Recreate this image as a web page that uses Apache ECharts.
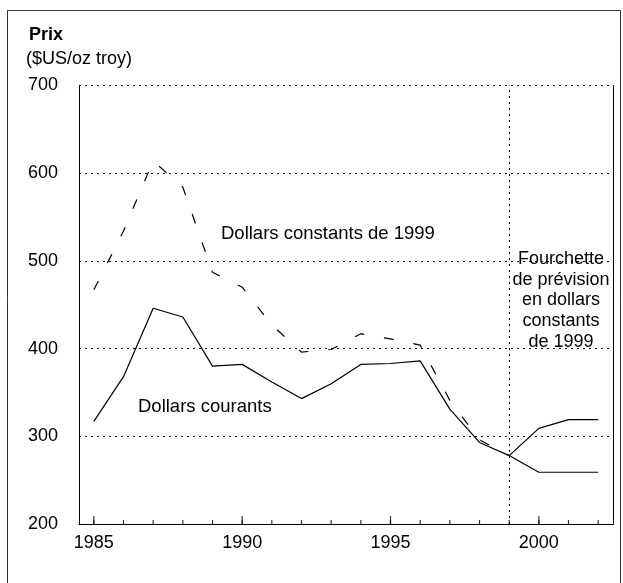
<!DOCTYPE html>
<html>
<head>
<meta charset="utf-8">
<script src="https://cdn.jsdelivr.net/npm/echarts@6/dist/echarts.min.js"></script>
<style>
  html, body { margin: 0; padding: 0; background: #fff; }
  #chart { width: 623px; height: 583px; }
</style>
</head>
<body>
<div id="chart"></div>
<script>
  // annees et valeurs
  var years = [1985, 1986, 1987, 1988, 1989, 1990, 1991, 1992, 1993, 1994, 1995, 1996, 1997, 1998, 1999];
  var courants = [317, 368, 446, 436, 380, 382, 362, 343, 360, 382, 383, 386, 331, 293, 278];
  var constants1999 = [467, 534, 614, 584, 487, 470, 427, 396, 399, 417, 411, 404, 341, 296, 278];
  // fourchette de prevision
  var prevYears = [1999, 2000, 2001, 2002];
  var prevHaut = [278, 309, 319, 319];
  var prevBas = [278, 259, 259, 259];
  // graduations de l'axe des x
  var tickYears = [1985, 1986, 1987, 1988, 1989, 1990, 1991, 1992, 1993, 1994, 1995, 1996, 1997, 1998, 1999, 2000, 2001, 2002];
  var labelYears = [1985, 1990, 1995, 2000];
  var yMin = 200;

  function pairs(xs, ys) {
    var out = [];
    for (let i = 0; i < xs.length; i++) {
      out.push([xs[i], ys[i]]);
    }
    return out;
  }
  function onAxis(xs) {
    return xs.map(function (y) { return [y, yMin]; });
  }

  var font = 'Liberation Sans, Arial, sans-serif';
  var chart = echarts.init(document.getElementById('chart'));
  var option = {
    animation: false,
    backgroundColor: '#fff',
    grid: {left: 79, right: 10, top: 85.5, bottom: 59, outerBoundsMode: 'none'},
    xAxis: {
      type: 'value',
      min: 1984.5,
      max: 2002.5,
      axisLine: {onZero: false, lineStyle: {color: '#000', width: 1}},
      axisTick: {show: false},
      axisLabel: {
        customValues: labelYears,
        color: '#000', fontSize: 18, fontFamily: font, margin: 10,
        formatter: function (v) { return String(v); }
      },
      splitLine: {show: false}
    },
    yAxis: [
      {
        type: 'value',
        min: yMin,
        max: 700,
        interval: 100,
        axisLine: {show: true, lineStyle: {color: '#000', width: 1}},
        axisTick: {show: false},
        axisLabel: {color: '#000', fontSize: 18, fontFamily: font, margin: 21},
        splitLine: {lineStyle: {color: '#000', type: [2, 4], width: 1}}
      },
      {
        type: 'value',
        position: 'right',
        min: yMin,
        max: 700,
        interval: 100,
        axisLine: {show: true, lineStyle: {color: '#000', width: 1}},
        axisTick: {show: false},
        axisLabel: {show: false},
        splitLine: {show: false}
      }
    ],
    series: [
      {
        type: 'line',
        data: pairs(years, courants),
        symbol: 'none',
        lineStyle: {color: '#000', width: 1.2},
        markLine: {
          silent: true,
          symbol: 'none',
          label: {show: false},
          lineStyle: {color: '#000', type: [2, 4], width: 1},
          data: [{xAxis: 1999}]
        }
      },
      {
        type: 'line',
        data: pairs(years, constants1999),
        symbol: 'none',
        lineStyle: {color: '#000', width: 1.2, type: [10, 20]}
      },
      {
        type: 'line',
        data: pairs(prevYears, prevHaut),
        symbol: 'none',
        lineStyle: {color: '#000', width: 1.2}
      },
      {
        type: 'line',
        data: pairs(prevYears, prevBas),
        symbol: 'none',
        lineStyle: {color: '#000', width: 1.2}
      },
      {
        // graduations annuelles (vers l'interieur)
        type: 'scatter',
        silent: true,
        clip: false,
        data: onAxis(tickYears),
        symbol: 'rect',
        symbolSize: [1.2, 4],
        symbolOffset: [0, -2],
        itemStyle: {color: '#000'}
      },
      {
        // graduations tous les 5 ans, plus longues
        type: 'scatter',
        silent: true,
        clip: false,
        data: onAxis(labelYears),
        symbol: 'rect',
        symbolSize: [1.2, 8],
        symbolOffset: [0, -4],
        itemStyle: {color: '#000'}
      }
    ],
    graphic: [
      {
        type: 'rect',
        shape: {x: 7.5, y: 10.5, width: 613, height: 600},
        style: {fill: 'none', stroke: '#333', lineWidth: 1},
        silent: true
      },
      {
        type: 'text', left: 29, top: 26,
        style: {text: 'Prix', fontSize: 18, fontWeight: 'bold', fontFamily: font, fill: '#000'}
      },
      {
        type: 'text', left: 26, top: 50,
        style: {text: '($US/oz troy)', fontSize: 18, fontFamily: font, fill: '#000'}
      },
      {
        type: 'text', x: 221, y: 234,
        style: {text: 'Dollars constants de 1999', fontSize: 18.5, fontFamily: font, fill: '#000', verticalAlign: 'middle'}
      },
      {
        type: 'text', x: 138, y: 407,
        style: {text: 'Dollars courants', fontSize: 18.5, fontFamily: font, fill: '#000', verticalAlign: 'middle'}
      },
      {
        type: 'text', x: 561, y: 300.5,
        style: {
          text: 'Fourchette\nde prévision\nen dollars\nconstants\nde 1999',
          fontSize: 18, fontFamily: font, fill: '#000', lineHeight: 20.75,
          align: 'center', verticalAlign: 'middle'
        }
      }
    ]
  };
  chart.setOption(option);
</script>
</body>
</html>
